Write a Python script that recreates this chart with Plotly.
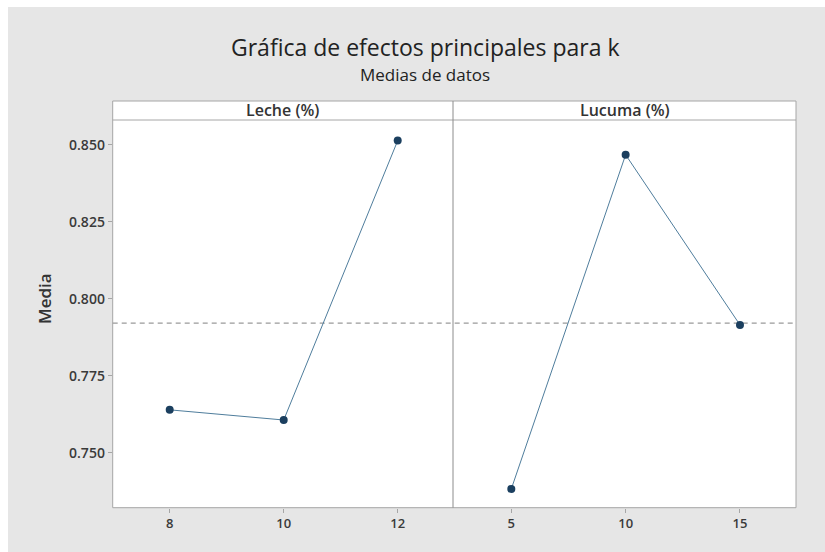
import numpy as np
import plotly.graph_objects as go

# Factor levels and mean response k at each level
leche_levels = [8, 10, 12]
leche_means = [0.7639, 0.7606, 0.8514]
lucuma_levels = [5, 10, 15]
lucuma_means = [0.7382, 0.8468, 0.7915]

y_ticks = [0.750, 0.775, 0.800, 0.825, 0.850]
panel_titles = ["Leche (%)", "Lucuma (%)"]

grand_mean = float(np.mean(leche_means + lucuma_means))

W, H = 825, 552
FONT = "Open Sans"
TXT = "#333333"
BORDER = "#a6a6a6"
MARK = "#1b3f5f"
LINE = "#4f7d9c"


def px_x(v):
    return v / W


def px_y(v):
    return 1 - v / H


# panel geometry (pixels)
left, mid, right = 112.7, 453.0, 796.0
top_hdr, top_plot, bottom = 101.0, 120.0, 507.7

fig = go.Figure()

fig.add_trace(go.Scatter(
    x=leche_levels, y=leche_means, mode="lines+markers",
    line=dict(color=LINE, width=1),
    marker=dict(color=MARK, size=8),
    xaxis="x", yaxis="y", showlegend=False,
))
fig.add_trace(go.Scatter(
    x=lucuma_levels, y=lucuma_means, mode="lines+markers",
    line=dict(color=LINE, width=1),
    marker=dict(color=MARK, size=8),
    xaxis="x2", yaxis="y", showlegend=False,
))

ytickfont = dict(family=FONT, size=14, color="#3a3a3a", weight=600)
xtickfont = dict(family=FONT, size=13, color="#3a3a3a", weight=600)

fig.update_layout(
    width=W, height=H,
    margin=dict(l=0, r=0, t=0, b=0),
    paper_bgcolor="white",
    plot_bgcolor="rgba(0,0,0,0)",
    font=dict(family=FONT, color=TXT),
    xaxis=dict(
        domain=[px_x(left), px_x(mid)], anchor="y",
        range=[7.0, 12.97], tickvals=leche_levels,
        ticks="outside", ticklen=4, tickcolor=BORDER,
        showgrid=False, zeroline=False, showline=False,
        tickfont=xtickfont,
    ),
    xaxis2=dict(
        domain=[px_x(mid), px_x(right)], anchor="y",
        range=[2.45, 17.45], tickvals=lucuma_levels,
        ticks="outside", ticklen=4, tickcolor=BORDER,
        showgrid=False, zeroline=False, showline=False,
        tickfont=xtickfont,
    ),
    yaxis=dict(
        domain=[px_y(bottom), px_y(top_plot)], anchor="x",
        range=[0.7321, 0.8581], tickvals=y_ticks, tickformat=".3f",
        ticks="outside", ticklen=4, tickcolor=BORDER,
        showgrid=False, zeroline=False, showline=False,
        tickfont=ytickfont,
    ),
)

shapes = []
# gray page background
shapes.append(dict(type="rect", xref="paper", yref="paper", layer="below",
                   x0=px_x(8), x1=1, y0=0, y1=px_y(7),
                   fillcolor="#e6e6e6", line=dict(width=0)))
# white panel area incl. header
shapes.append(dict(type="rect", xref="paper", yref="paper", layer="below",
                   x0=px_x(left), x1=px_x(right), y0=px_y(bottom), y1=px_y(top_hdr),
                   fillcolor="white", line=dict(color=BORDER, width=1)))
# header separator
shapes.append(dict(type="line", xref="paper", yref="paper",
                   x0=px_x(left), x1=px_x(right), y0=px_y(top_plot), y1=px_y(top_plot),
                   line=dict(color=BORDER, width=1)))
# panel divider
shapes.append(dict(type="line", xref="paper", yref="paper",
                   x0=px_x(mid), x1=px_x(mid), y0=px_y(bottom), y1=px_y(top_hdr),
                   line=dict(color="#8c8c8c", width=1)))
# grand mean reference line
shapes.append(dict(type="line", xref="paper", yref="y",
                   x0=px_x(left), x1=px_x(right), y0=grand_mean, y1=grand_mean,
                   line=dict(color="#9a9a9a", width=1.2, dash="5px,4px"), layer="below"))
fig.update_layout(shapes=shapes)

annotations = [
    dict(text="Gráfica de efectos principales para k", xref="paper", yref="paper",
         x=px_x(425), y=px_y(47), showarrow=False, xanchor="center", yanchor="middle",
         font=dict(family=FONT, size=23, color="#222222")),
    dict(text="Medias de datos", xref="paper", yref="paper",
         x=px_x(425), y=px_y(74), showarrow=False, xanchor="center", yanchor="middle",
         font=dict(family=FONT, size=17, color="#222222")),
    dict(text="Media", xref="paper", yref="paper", textangle=-90,
         x=px_x(44), y=px_y(299), showarrow=False, xanchor="center", yanchor="middle",
         font=dict(family=FONT, size=17, color=TXT, weight=600)),
]
for title, (a, b) in zip(panel_titles, [(left, mid), (mid, right)]):
    annotations.append(dict(text=title, xref="paper", yref="paper",
                            x=px_x((a + b) / 2), y=px_y((top_hdr + top_plot) / 2),
                            showarrow=False, xanchor="center", yanchor="middle",
                            font=dict(family=FONT, size=16, color=TXT, weight=600)))
fig.update_layout(annotations=annotations)

fig.write_html("out.html")
